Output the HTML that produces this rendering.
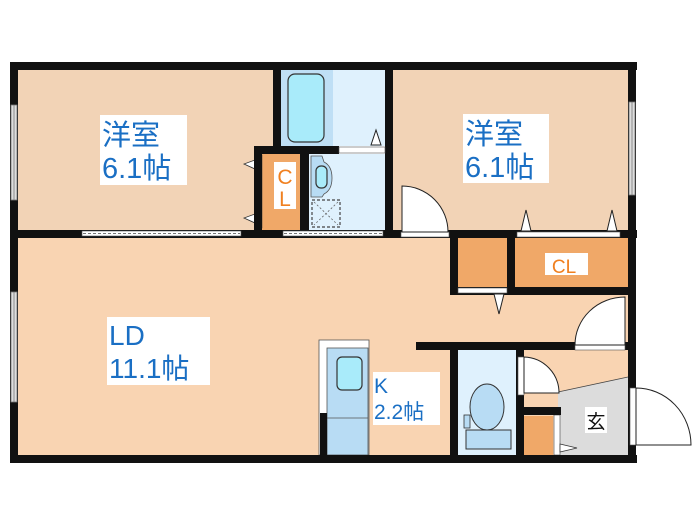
<!DOCTYPE html>
<html><head><meta charset="utf-8"><style>
html,body{margin:0;padding:0;background:#fff;width:700px;height:525px;overflow:hidden}
svg{display:block}
text{font-family:"Liberation Sans","Noto Sans CJK JP",sans-serif}
</style></head><body>
<svg width="700" height="525" viewBox="0 0 700 525" xmlns="http://www.w3.org/2000/svg">
<rect x="18" y="70" width="255" height="161" fill="#f2d3b6"/>
<rect x="393" y="70" width="235" height="161" fill="#f2d3b6"/>
<rect x="18" y="238" width="610" height="217" fill="#f9d4b2"/>
<rect x="281" y="70" width="52" height="76" fill="#bfdff5"/>
<rect x="288" y="74" width="36" height="68" rx="7" fill="#a9ebfa" stroke="#333" stroke-width="1.2"/>
<rect x="333" y="70" width="52" height="76" fill="#dff1fd"/>
<rect x="309" y="154" width="76" height="76" fill="#dff1fd"/>
<path d="M311 156 H322 L324 162 Q332 166 332 178 Q332 190 324 194 L322 197 H311 Z" fill="#b8dcf4" stroke="#555" stroke-width="0.8"/>
<rect x="316" y="166" width="11" height="22" rx="5" fill="#a9ebfa" stroke="#333" stroke-width="1.2"/>
<rect x="312" y="200" width="28" height="27" fill="none" stroke="#444" stroke-width="1.2" stroke-dasharray="3,2"/>
<path d="M314 202 L338 225 M338 202 L314 225" stroke="#666" stroke-width="0.8" stroke-dasharray="2,2"/>
<rect x="262" y="154" width="38" height="76" fill="#f0a868"/>
<rect x="274" y="162" width="22" height="47" fill="#fff"/>
<text x="285" y="184" font-size="21" fill="#f08020" text-anchor="middle">C</text>
<text x="285" y="206" font-size="21" fill="#f08020" text-anchor="middle">L</text>
<rect x="255" y="155" width="7" height="73" fill="#fff" stroke="#444" stroke-width="0.6"/>
<path d="M255 160 L244 164 L255 169 Z M255 214 L244 218 L255 223 Z" fill="#fff" stroke="#333" stroke-width="0.8"/>
<rect x="458" y="238" width="49" height="49" fill="#f0a868"/>
<rect x="515" y="238" width="113" height="49" fill="#f0a868"/>
<rect x="545" y="253" width="43" height="22" fill="#fff"/>
<text x="564" y="273" font-size="19" fill="#f08020" text-anchor="middle">CL</text>
<rect x="458" y="350" width="58" height="105" fill="#dff1fd"/>
<ellipse cx="487" cy="407" rx="17" ry="23" fill="#b8dcf4" stroke="#333" stroke-width="1"/>
<rect x="466" y="430" width="45" height="19" fill="#b8dcf4" stroke="#333" stroke-width="1"/>
<rect x="464" y="415" width="6" height="13" fill="#b8dcf4" stroke="#333" stroke-width="0.8"/>
<polygon points="558,392 628,377 628,455 558,455" fill="#dcdcdc"/>
<line x1="558" y1="392" x2="628" y2="377" stroke="#444" stroke-width="0.8"/>
<rect x="524" y="416" width="29" height="39" fill="#f0a868"/>
<rect x="554" y="415" width="6" height="40" fill="#fff" stroke="#444" stroke-width="0.6"/>
<path d="M560 444 L577 448 L560 452 Z" fill="#fff" stroke="#333" stroke-width="0.8"/>
<rect x="585" y="407" width="22" height="26" fill="#fff"/>
<text x="596" y="428" font-size="19" fill="#111" text-anchor="middle">玄</text>
<rect x="319" y="340" width="50" height="115" fill="#fff" stroke="#555" stroke-width="0.8"/>
<rect x="327" y="348" width="41" height="107" fill="#b8dcf4" stroke="#555" stroke-width="0.8"/>
<line x1="327" y1="418" x2="368" y2="418" stroke="#555" stroke-width="0.8"/>
<rect x="337" y="357" width="25" height="33" rx="5" fill="#a9ebfa" stroke="#333" stroke-width="1.2"/>
<rect x="320" y="413" width="7" height="45" fill="#111"/>
<rect x="373" y="372" width="67" height="53" fill="#fff"/>
<text x="374" y="393" font-size="21" fill="#1a6fc4">K</text>
<text x="374" y="419" font-size="21" fill="#1a6fc4">2.2帖</text>
<g fill="#111">
<rect x="10" y="62" width="627" height="8"/>
<rect x="10" y="62" width="8" height="401"/>
<rect x="10" y="455" width="627" height="8"/>
<rect x="628" y="62" width="8" height="401"/>
<rect x="273" y="62" width="8" height="92"/>
<rect x="385" y="62" width="8" height="176"/>
<rect x="254" y="146" width="85" height="8"/>
<rect x="254" y="146" width="8" height="92"/>
<rect x="300" y="146" width="9" height="92"/>
<rect x="10" y="230" width="627" height="8"/>
<rect x="450" y="230" width="8" height="65"/>
<rect x="507" y="230" width="8" height="65"/>
<rect x="450" y="287" width="186" height="8"/>
<rect x="416" y="342" width="220" height="8"/>
<rect x="450" y="342" width="8" height="121"/>
<rect x="516" y="342" width="8" height="121"/>
<rect x="516" y="407" width="45" height="8"/>
</g>
<g fill="#fff" stroke="#555" stroke-width="0.6">
<rect x="82" y="231" width="159" height="5"/>
<rect x="283" y="231" width="100" height="5"/>
<rect x="339" y="147" width="46" height="6"/>
<rect x="401" y="232" width="48" height="5"/>
<rect x="517" y="232" width="103" height="5"/>
<rect x="458" y="288" width="49" height="5"/>
<rect x="575" y="344" width="50" height="6"/>
<rect x="518" y="357" width="6" height="38"/>
<rect x="630" y="388" width="6" height="57"/>
</g>
<path d="M83 233.5 H240 M284 233.5 H382" stroke="#777" stroke-width="1" stroke-dasharray="3,2"/>
<g fill="#ddd" stroke="#777" stroke-width="0.8">
<rect x="11" y="105" width="6" height="95"/>
<rect x="11" y="292" width="6" height="110"/>
<rect x="629" y="102" width="6" height="93"/>
</g>
<path d="M14 105 V200 M14 292 V402 M632 102 V195" stroke="#777" stroke-width="0.8"/>
<g fill="#fff" stroke="#222" stroke-width="1">
<path d="M402 232 V186 A46 46 0 0 1 448 232 Z"/>
<path d="M625 345 V297 A50 48 0 0 0 575 345 Z"/>
<path d="M524 393 V357 A36 36 0 0 1 559 393 Z"/>
<path d="M636 445 V388 A55 57 0 0 1 691 445 Z"/>
<path d="M371 145 L376 130 L381 145 Z"/>
<path d="M521 231 L526 210 L531 231 Z"/>
<path d="M607 231 L612 210 L617 231 Z"/>
<path d="M494 294 L499 314 L504 294 Z"/>
</g>
<rect x="100" y="115" width="87" height="70" fill="#fff"/>
<text x="102" y="145" font-size="29" fill="#1a6fc4">洋室</text>
<text x="102" y="178" font-size="29" fill="#1a6fc4">6.1帖</text>
<rect x="463" y="114" width="86" height="69" fill="#fff"/>
<text x="465" y="144" font-size="29" fill="#1a6fc4">洋室</text>
<text x="465" y="177" font-size="29" fill="#1a6fc4">6.1帖</text>
<rect x="107" y="317" width="103" height="68" fill="#fff"/>
<text x="109" y="345" font-size="28" fill="#1a6fc4">LD</text>
<text x="109" y="378" font-size="28" fill="#1a6fc4">11.1帖</text>
</svg>
</body></html>
